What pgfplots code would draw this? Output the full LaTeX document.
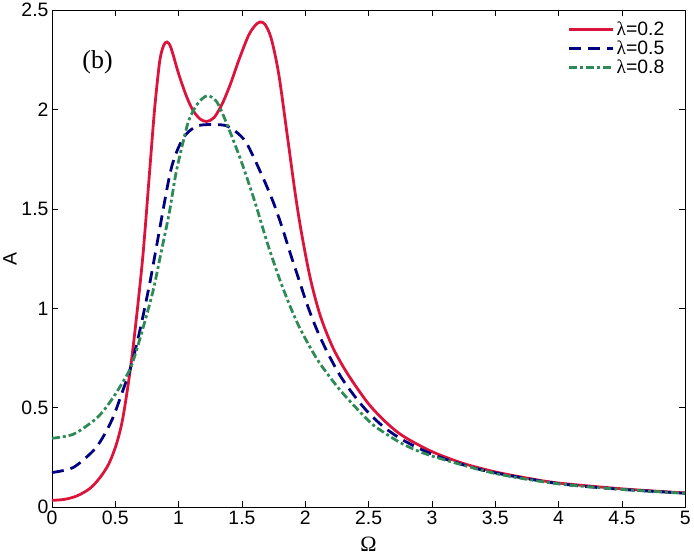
\documentclass[border=0pt]{standalone}
\usepackage{pgfplots}
\pgfplotsset{compat=1.18}
\usepackage{fontspec}
\setmainfont{Liberation Sans}
\newfontfamily\serif{Liberation Serif}
\definecolor{cred}{RGB}{220,20,60}
\definecolor{cblue}{RGB}{0,0,128}
\definecolor{cgreen}{RGB}{46,139,87}
\begin{document}
\begin{tikzpicture}
\begin{axis}[
  scale only axis,
  width=637pt, height=500pt,
  xmin=0, xmax=5, ymin=0, ymax=2.5,
  xtick={0,0.5,...,5}, ytick={0,0.5,...,2.5},
  tick align=inside,
  major tick length=6pt,
  axis line style={line width=0.8pt},
  every tick/.style={black, line width=0.8pt},
  /pgf/number format/assume math mode=true,
  tick label style={font=\fontsize{19.5}{22}\selectfont},
  xlabel={\serif Ω},
  xlabel style={font=\fontsize{22}{24}\selectfont, yshift=-6pt},
  ylabel={A},
  ylabel style={font=\fontsize{19.5}{22}\selectfont, yshift=-2pt},
  legend style={draw=none, fill=none, at={(0.975,0.985)}, anchor=north east,
    font=\fontsize{19.5}{22}\selectfont, row sep=0pt},
  legend cell align=left,
  legend image code/.code={\draw[#1] (0pt,0pt) -- (44pt,0pt);},
]
\addplot[cred, line width=2.8pt, smooth, tension=0.5] coordinates {
(0,0.035) (0.1,0.040) (0.2,0.058) (0.3,0.095) (0.38,0.15) (0.45,0.22) (0.51,0.32) (0.56,0.45) (0.62,0.70)
(0.67,0.97) (0.72,1.28) (0.77,1.68) (0.81,2.0) (0.85,2.24) (0.88,2.32) (0.908,2.34) (0.94,2.31)
(1.0,2.18) (1.06,2.07) (1.11,2.00) (1.165,1.955) (1.22,1.94) (1.28,1.96) (1.345,2.03)
(1.41,2.13) (1.476,2.25) (1.55,2.37) (1.60,2.42) (1.64,2.44) (1.68,2.43) (1.73,2.36)
(1.79,2.18) (1.86,1.86) (1.92,1.58) (1.97,1.38) (2.04,1.15) (2.12,0.96) (2.22,0.80) (2.34,0.665)
(2.5,0.52) (2.65,0.42) (2.78,0.355) (3.0,0.28) (3.25,0.22) (3.5,0.178) (3.75,0.147)
(4.0,0.122) (4.5,0.093) (5.0,0.072)
};
\addlegendentry{{\serif λ}=0.2}
\addplot[cblue, line width=2.8pt, dash pattern=on 12pt off 7pt, smooth, tension=0.5] coordinates {
(0,0.175) (0.167,0.20) (0.324,0.283) (0.40,0.35) (0.481,0.45) (0.55,0.57) (0.62,0.70)
(0.691,0.88) (0.77,1.12) (0.822,1.30) (0.926,1.66) (0.98,1.78) (1.04,1.86) (1.10,1.90)
(1.16,1.92) (1.25,1.925) (1.37,1.92) (1.45,1.89) (1.528,1.84) (1.60,1.75) (1.685,1.63)
(1.75,1.53) (1.816,1.41) (1.88,1.28) (1.947,1.15) (2.02,1.01) (2.10,0.88) (2.19,0.76)
(2.287,0.65) (2.40,0.55) (2.5,0.475) (2.627,0.40) (2.78,0.335) (3.0,0.267) (3.25,0.213)
(3.5,0.173) (4.0,0.119) (4.5,0.090) (5.0,0.071)
};
\addlegendentry{{\serif λ}=0.5}
\addplot[cgreen, line width=2.8pt, dash pattern=on 8pt off 3pt on 3pt off 3pt, smooth, tension=0.5] coordinates {
(0,0.347) (0.167,0.367) (0.324,0.433) (0.40,0.48) (0.481,0.55) (0.55,0.62) (0.62,0.70)
(0.691,0.84) (0.795,1.08) (0.861,1.28) (0.926,1.48) (0.979,1.68) (1.044,1.86) (1.083,1.95)
(1.15,2.03) (1.227,2.07) (1.30,2.04) (1.36,1.96) (1.423,1.86) (1.50,1.73) (1.60,1.54)
(1.70,1.33) (1.79,1.16) (1.868,1.03) (1.95,0.91) (2.051,0.79) (2.13,0.71) (2.287,0.58)
(2.5,0.435) (2.6,0.385) (2.78,0.315) (3.0,0.258) (3.5,0.17) (4.0,0.118) (4.5,0.09) (5.0,0.07)
};
\addlegendentry{{\serif λ}=0.8}
\node[font=\fontsize{26}{28}\selectfont\serif] at (axis cs:0.36,2.24) {(b)};
\end{axis}
\end{tikzpicture}
\end{document}
